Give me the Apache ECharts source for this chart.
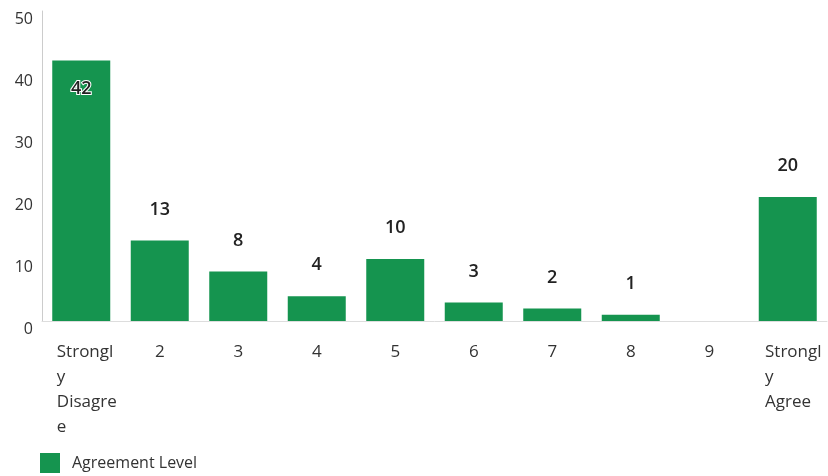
<!DOCTYPE html>
<html>
<head>
<meta charset="utf-8">
<script src="https://cdn.jsdelivr.net/npm/echarts@6/dist/echarts.min.js"></script>
<style>
  html, body {margin: 0; padding: 0; background: #fff;}
  #chart {width: 828px; height: 476px;}
</style>
</head>
<body>
<div id="chart"></div>
<script>
const categories = ['Strongl\ny\nDisagre\ne', '2', '3', '4', '5', '6', '7', '8', '9', 'Strongl\ny\nAgree'];
const counts = [42, 13, 8, 4, 10, 3, 2, 1, 0, 20];
const yTicks = [0, 10, 20, 30, 40, 50];

const green = '#15944f';
const font = 'Open Sans';

const barData = counts.map((v, i) => {
    if (i === 0) {
        return {
            value: v,
            label: {position: 'insideTop', distance: 19, color: '#222', textBorderColor: '#fff', textBorderWidth: 2}
        };
    }
    if (v === 0) return {value: v, label: {show: false}};
    return v;
});

const option = {
    animation: false,
    grid: {left: 42, right: 1, top: 11, bottom: 155},
    legend: {
        left: 35, top: 448,
        itemWidth: 20, itemHeight: 20, itemGap: 10,
        icon: 'rect',
        textStyle: {fontFamily: font, fontSize: 16, color: '#333', padding: [0, 0, 0, 7]},
        data: ['Agreement Level']
    },
    xAxis: {
        type: 'category',
        data: categories,
        axisTick: {show: false},
        axisLine: {lineStyle: {color: '#ddd'}},
        axisLabel: {
            interval: 0, margin: 19,
            fontFamily: font, fontSize: 17, color: '#333', lineHeight: 25,
            formatter: v => {
                const key = v.indexOf('\n') >= 0 ? 's' : 'a';
                return v.split('\n').map(l => '{' + key + '|' + l + '}').join('\n');
            },
            rich: {
                a: {align: 'left', fontFamily: font, fontSize: 17, color: '#333', lineHeight: 25},
                s: {align: 'left', fontFamily: font, fontSize: 17, color: '#333', lineHeight: 25, padding: [0, 0, 0, 11]}
            }
        }
    },
    yAxis: {
        type: 'value',
        min: yTicks[0], max: yTicks[yTicks.length - 1], interval: 10,
        axisLine: {show: true, lineStyle: {color: '#ccc'}},
        axisTick: {show: false},
        splitLine: {show: false},
        axisLabel: {margin: 9, fontFamily: font, fontSize: 16, color: '#333', verticalAlign: 'top'}
    },
    series: [{
        name: 'Agreement Level',
        type: 'bar',
        barWidth: 58,
        itemStyle: {color: green},
        label: {show: true, position: 'top', distance: 22, fontFamily: font, fontSize: 18, fontWeight: 600, color: '#222'},
        data: barData
    }]
};

const myChart = echarts.init(document.getElementById('chart'));
myChart.setOption(option);
</script>
</body>
</html>
